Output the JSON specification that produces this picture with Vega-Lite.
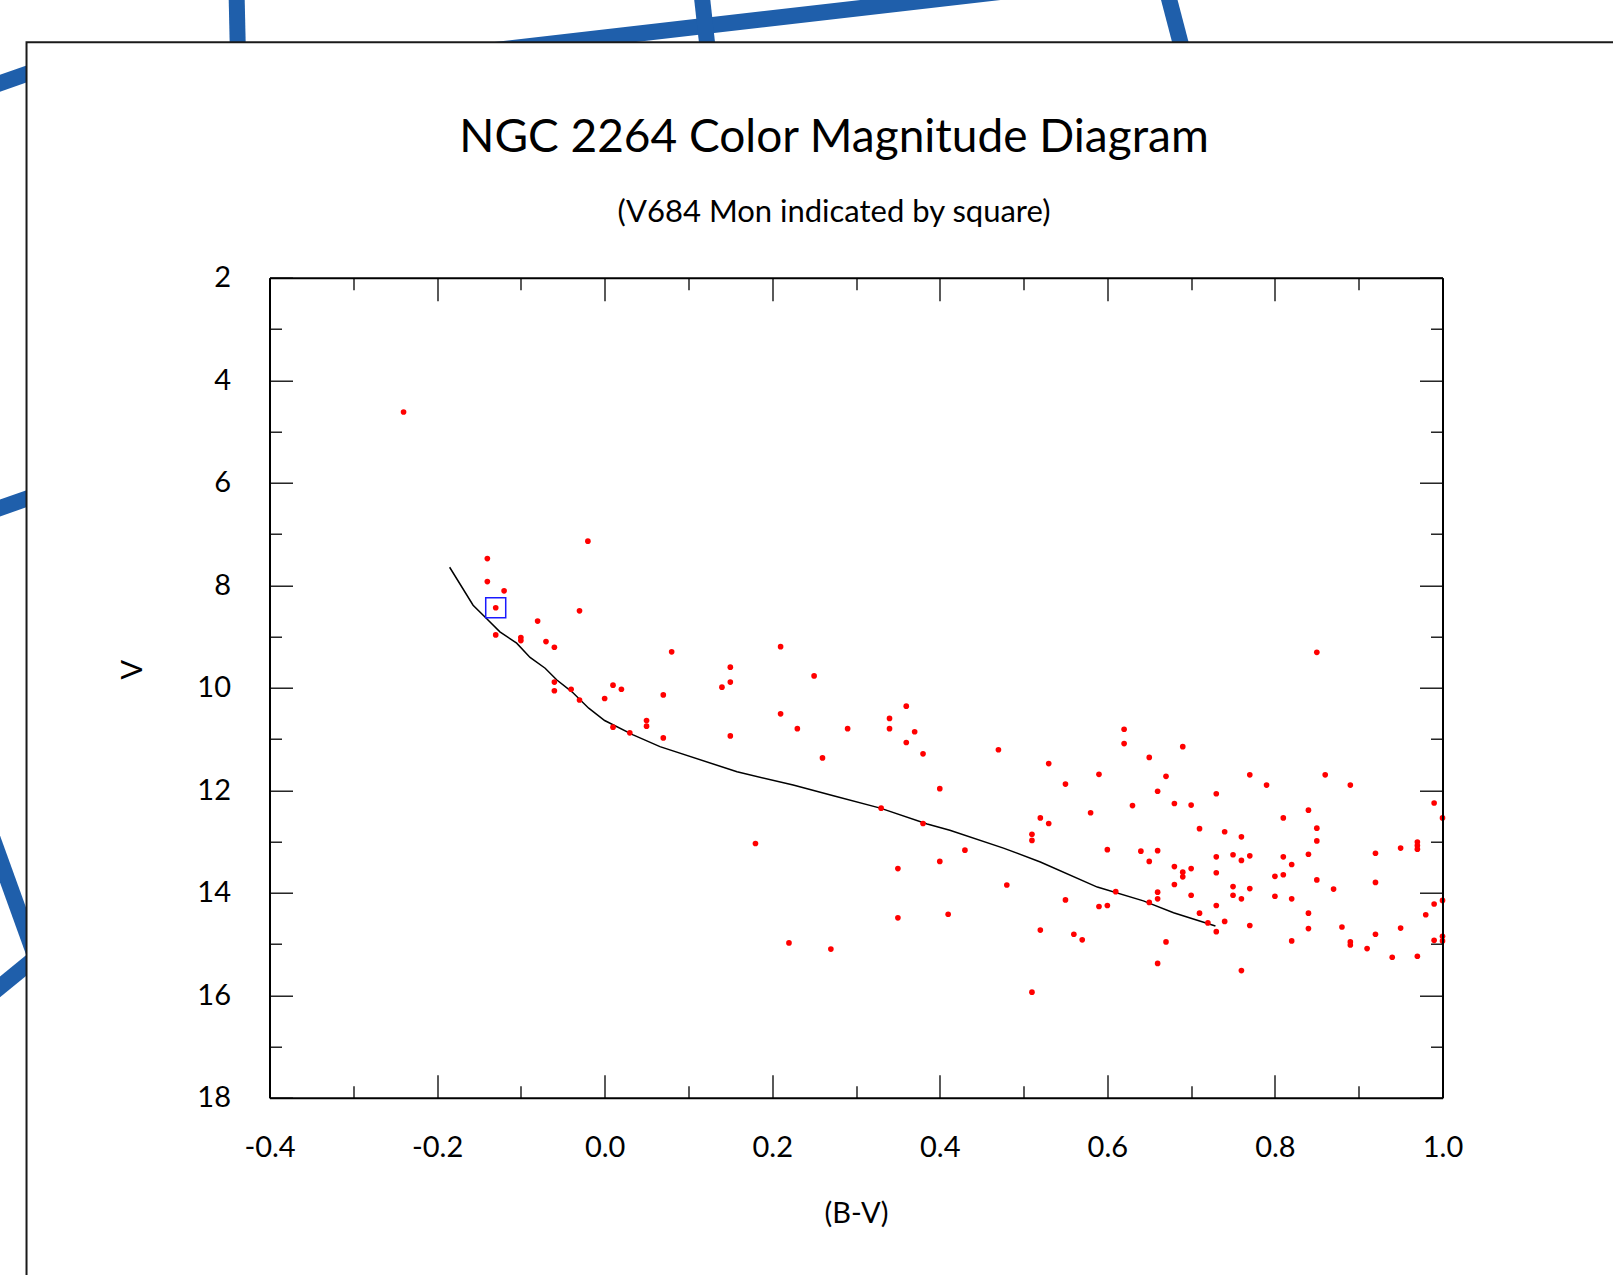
{
  "$schema": "https://vega.github.io/schema/vega-lite/v6.json",
  "width": 1173,
  "height": 820,
  "autosize": "none",
  "padding": {"left": 269.5, "top": 277.7, "right": 170.5, "bottom": 177.3},
  "background": "white",
  "view": {"stroke": null},
  "title": {
    "text": "NGC 2264 Color Magnitude Diagram",
    "subtitle": "(V684 Mon indicated by square)",
    "anchor": "middle",
    "frame": "group",
    "dx": -22,
    "offset": -247,
    "font": "Lato",
    "fontSize": 46,
    "fontWeight": "normal",
    "color": "black",
    "subtitleFont": "Lato",
    "subtitleFontSize": 31,
    "subtitleColor": "black",
    "subtitlePadding": 36
  },
  "config": {
    "axis": {
      "grid": false,
      "tickColor": "black",
      "tickWidth": 1.3,
      "domainColor": "black",
      "domainWidth": 2,
      "labelFont": "Lato",
      "labelFontSize": 29,
      "labelColor": "black",
      "labelFlush": false,
      "labelOverlap": false,
      "titleFont": "Lato",
      "titleFontSize": 29,
      "titleFontWeight": "normal",
      "titleColor": "black"
    }
  },
  "datasets": {
    "bg": [
      {"x1": -0.4394, "y1": -3.614, "x2": -0.4370, "y2": -1.858},
      {"x1": -0.1487, "y1": -2.408, "x2": 0.4721, "y2": -3.575},
      {"x1": 0.1152, "y1": -3.614, "x2": 0.1271, "y2": -1.858},
      {"x1": 0.6708, "y1": -3.614, "x2": 0.6983, "y2": -1.897},
      {"x1": -0.7456, "y1": -1.657, "x2": -0.6501, "y2": -2.203},
      {"x1": -0.7456, "y1": 6.630, "x2": -0.6501, "y2": 6.084},
      {"x1": -0.7337, "y1": 12.796, "x2": -0.6740, "y2": 15.499},
      {"x1": -0.7337, "y1": 16.000, "x2": -0.6740, "y2": 15.200}
    ],
    "panel": [
      {"x1": -0.690, "x2": 1.40, "y1": -2.593, "y2": 23.0}
    ],
    "zams": [
      {"bv": -0.185, "v": 7.65}, {"bv": -0.157, "v": 8.39}, {"bv": -0.141, "v": 8.65},
      {"bv": -0.125, "v": 8.91}, {"bv": -0.105, "v": 9.13}, {"bv": -0.089, "v": 9.41},
      {"bv": -0.071, "v": 9.62}, {"bv": -0.057, "v": 9.85}, {"bv": -0.039, "v": 10.08},
      {"bv": -0.019, "v": 10.40}, {"bv": 0.0, "v": 10.64}, {"bv": 0.034, "v": 10.92},
      {"bv": 0.066, "v": 11.15}, {"bv": 0.158, "v": 11.64}, {"bv": 0.225, "v": 11.90},
      {"bv": 0.273, "v": 12.11}, {"bv": 0.329, "v": 12.35}, {"bv": 0.385, "v": 12.66},
      {"bv": 0.412, "v": 12.78}, {"bv": 0.476, "v": 13.13}, {"bv": 0.520, "v": 13.40},
      {"bv": 0.588, "v": 13.89}, {"bv": 0.643, "v": 14.16}, {"bv": 0.679, "v": 14.39},
      {"bv": 0.729, "v": 14.65}
    ],
    "v684": [{"bv": -0.13, "v": 8.44}],
    "stars": [
      {"bv": -0.24, "v": 4.62}, {"bv": -0.14, "v": 7.48}, {"bv": -0.02, "v": 7.14},
      {"bv": -0.14, "v": 7.93}, {"bv": -0.12, "v": 8.11}, {"bv": -0.13, "v": 8.44},
      {"bv": -0.03, "v": 8.50}, {"bv": -0.08, "v": 8.70}, {"bv": -0.13, "v": 8.97},
      {"bv": -0.10, "v": 9.02}, {"bv": -0.10, "v": 9.08}, {"bv": -0.07, "v": 9.10},
      {"bv": -0.06, "v": 9.21}, {"bv": -0.06, "v": 9.89}, {"bv": -0.06, "v": 10.06},
      {"bv": -0.04, "v": 10.03}, {"bv": -0.03, "v": 10.24}, {"bv": 0.00, "v": 10.21},
      {"bv": 0.01, "v": 9.95}, {"bv": 0.02, "v": 10.03}, {"bv": 0.01, "v": 10.77},
      {"bv": 0.03, "v": 10.88}, {"bv": 0.05, "v": 10.64}, {"bv": 0.05, "v": 10.75},
      {"bv": 0.08, "v": 9.30}, {"bv": 0.21, "v": 9.20}, {"bv": 0.15, "v": 9.60},
      {"bv": 0.15, "v": 9.89}, {"bv": 0.14, "v": 9.99}, {"bv": 0.25, "v": 9.77},
      {"bv": 0.07, "v": 10.14}, {"bv": 0.07, "v": 10.98}, {"bv": 0.15, "v": 10.94},
      {"bv": 0.21, "v": 10.51}, {"bv": 0.23, "v": 10.80}, {"bv": 0.29, "v": 10.80},
      {"bv": 0.34, "v": 10.60}, {"bv": 0.34, "v": 10.80}, {"bv": 0.36, "v": 10.36},
      {"bv": 0.37, "v": 10.86}, {"bv": 0.36, "v": 11.07}, {"bv": 0.26, "v": 11.37},
      {"bv": 0.38, "v": 11.29}, {"bv": 0.47, "v": 11.21}, {"bv": 0.40, "v": 11.97},
      {"bv": 0.33, "v": 12.35}, {"bv": 0.38, "v": 12.65}, {"bv": 0.18, "v": 13.04},
      {"bv": 0.43, "v": 13.17}, {"bv": 0.40, "v": 13.39}, {"bv": 0.35, "v": 13.53},
      {"bv": 0.48, "v": 13.85}, {"bv": 0.35, "v": 14.49}, {"bv": 0.41, "v": 14.42},
      {"bv": 0.22, "v": 14.98}, {"bv": 0.27, "v": 15.10},
      {"bv": 0.53, "v": 11.48}, {"bv": 0.55, "v": 11.88}, {"bv": 0.59, "v": 11.69},
      {"bv": 0.62, "v": 10.81}, {"bv": 0.62, "v": 11.09}, {"bv": 0.65, "v": 11.36},
      {"bv": 0.69, "v": 11.15}, {"bv": 0.67, "v": 11.73}, {"bv": 0.66, "v": 12.02},
      {"bv": 0.68, "v": 12.26}, {"bv": 0.70, "v": 12.29}, {"bv": 0.63, "v": 12.30},
      {"bv": 0.58, "v": 12.44}, {"bv": 0.52, "v": 12.54}, {"bv": 0.53, "v": 12.65},
      {"bv": 0.51, "v": 12.86}, {"bv": 0.51, "v": 12.98}, {"bv": 0.73, "v": 12.07},
      {"bv": 0.71, "v": 12.75}, {"bv": 0.77, "v": 11.70}, {"bv": 0.79, "v": 11.90},
      {"bv": 0.86, "v": 11.70}, {"bv": 0.89, "v": 11.90}, {"bv": 0.74, "v": 12.81},
      {"bv": 0.76, "v": 12.91}, {"bv": 0.81, "v": 12.54}, {"bv": 0.84, "v": 12.39},
      {"bv": 0.85, "v": 12.74}, {"bv": 0.85, "v": 12.99}, {"bv": 0.99, "v": 12.25},
      {"bv": 1.00, "v": 12.54}, {"bv": 0.60, "v": 13.16}, {"bv": 0.64, "v": 13.19},
      {"bv": 0.66, "v": 13.18}, {"bv": 0.65, "v": 13.39}, {"bv": 0.68, "v": 13.49},
      {"bv": 0.69, "v": 13.60}, {"bv": 0.69, "v": 13.69}, {"bv": 0.70, "v": 13.53},
      {"bv": 0.73, "v": 13.30}, {"bv": 0.73, "v": 13.61}, {"bv": 0.75, "v": 13.26},
      {"bv": 0.76, "v": 13.37}, {"bv": 0.77, "v": 13.28}, {"bv": 0.81, "v": 13.30},
      {"bv": 0.82, "v": 13.45}, {"bv": 0.84, "v": 13.25}, {"bv": 0.92, "v": 13.23},
      {"bv": 0.95, "v": 13.13}, {"bv": 0.97, "v": 13.01}, {"bv": 0.97, "v": 13.08},
      {"bv": 0.97, "v": 13.15}, {"bv": 0.68, "v": 13.84}, {"bv": 0.70, "v": 14.05},
      {"bv": 0.71, "v": 14.40}, {"bv": 0.72, "v": 14.59}, {"bv": 0.73, "v": 14.25},
      {"bv": 0.73, "v": 14.76}, {"bv": 0.74, "v": 14.56}, {"bv": 0.75, "v": 13.88},
      {"bv": 0.75, "v": 14.05}, {"bv": 0.76, "v": 14.12}, {"bv": 0.77, "v": 13.92},
      {"bv": 0.77, "v": 14.64}, {"bv": 0.76, "v": 15.52}, {"bv": 0.80, "v": 13.68},
      {"bv": 0.81, "v": 13.65}, {"bv": 0.80, "v": 14.07}, {"bv": 0.82, "v": 14.12},
      {"bv": 0.85, "v": 13.75}, {"bv": 0.87, "v": 13.93}, {"bv": 0.84, "v": 14.40},
      {"bv": 0.84, "v": 14.70}, {"bv": 0.82, "v": 14.94}, {"bv": 0.88, "v": 14.67},
      {"bv": 0.89, "v": 14.96}, {"bv": 0.89, "v": 15.02}, {"bv": 0.91, "v": 15.09},
      {"bv": 0.92, "v": 13.80}, {"bv": 0.92, "v": 14.81}, {"bv": 0.94, "v": 15.26},
      {"bv": 0.95, "v": 14.69}, {"bv": 0.97, "v": 15.24}, {"bv": 0.98, "v": 14.43},
      {"bv": 0.99, "v": 14.22}, {"bv": 1.00, "v": 14.15}, {"bv": 0.99, "v": 14.93},
      {"bv": 1.00, "v": 14.85}, {"bv": 1.00, "v": 14.94}, {"bv": 0.66, "v": 13.99},
      {"bv": 0.66, "v": 14.12}, {"bv": 0.65, "v": 14.19}, {"bv": 0.67, "v": 14.96},
      {"bv": 0.66, "v": 15.38}, {"bv": 0.61, "v": 13.98}, {"bv": 0.59, "v": 14.27},
      {"bv": 0.60, "v": 14.25}, {"bv": 0.55, "v": 14.14}, {"bv": 0.52, "v": 14.73},
      {"bv": 0.56, "v": 14.81}, {"bv": 0.57, "v": 14.92}, {"bv": 0.51, "v": 15.94},
      {"bv": 0.85, "v": 9.31}
    ]
  },
  "resolve": {"axis": {"x": "independent", "y": "independent"}},
  "layer": [
    {
      "data": {"name": "bg"},
      "mark": {"type": "rule", "color": "#1f5fab", "strokeWidth": 16, "strokeCap": "butt"},
      "encoding": {
        "x": {"field": "x1", "type": "quantitative",
              "scale": {"domain": [-0.4, 1.0], "nice": false, "zero": false},
              "axis": {"orient": "bottom", "zindex": 2, "values": [-0.4, -0.2, 0, 0.2, 0.4, 0.6, 0.8, 1.0],
                       "tickSize": -23, "labelPadding": 82, "labelBaseline": "alphabetic",
                       "labelExpr": "datum.value < 0 ? '-' + format(-datum.value, '.1f') : format(datum.value, '.1f')",
                       "title": "(B-V)", "titlePadding": 37}},
        "x2": {"field": "x2"},
        "y": {"field": "y1", "type": "quantitative",
              "scale": {"domain": [2, 18], "nice": false, "zero": false, "reverse": true},
              "axis": {"orient": "left", "zindex": 2, "values": [2, 4, 6, 8, 10, 12, 14, 16, 18],
                       "tickSize": -23, "labelPadding": 62, "labelBaseline": "middle",
                       "title": "V", "titleX": -137.5, "titleY": 391.5, "titleBaseline": "middle", "titleAngle": 270}},
        "y2": {"field": "y2"}
      }
    },
    {
      "data": {"name": "panel"},
      "mark": {"type": "rect", "fill": "white", "stroke": "#1a1a1a", "strokeWidth": 2},
      "encoding": {
        "x": {"field": "x1", "type": "quantitative",
              "scale": {"domain": [-0.4, 1.0], "nice": false, "zero": false},
              "axis": {"orient": "bottom", "zindex": 2, "values": [-0.3, -0.1, 0.1, 0.3, 0.5, 0.7, 0.9],
                       "tickSize": -12, "labels": false, "domain": false, "title": null}},
        "x2": {"field": "x2"},
        "y": {"field": "y1", "type": "quantitative",
              "scale": {"domain": [2, 18], "nice": false, "zero": false, "reverse": true},
              "axis": {"orient": "left", "zindex": 2, "values": [3, 5, 7, 9, 11, 13, 15, 17],
                       "tickSize": -12, "labels": false, "domain": false, "title": null}},
        "y2": {"field": "y2"}
      }
    },
    {
      "data": {"name": "zams"},
      "mark": {"type": "line", "color": "black", "strokeWidth": 1.5},
      "encoding": {
        "x": {"field": "bv", "type": "quantitative",
              "scale": {"domain": [-0.4, 1.0], "nice": false, "zero": false},
              "axis": {"orient": "top", "zindex": 2, "values": [-0.4, -0.2, 0, 0.2, 0.4, 0.6, 0.8, 1.0],
                       "tickSize": -23, "labels": false, "title": null}},
        "y": {"field": "v", "type": "quantitative",
              "scale": {"domain": [2, 18], "nice": false, "zero": false, "reverse": true},
              "axis": {"orient": "right", "zindex": 2, "values": [2, 4, 6, 8, 10, 12, 14, 16, 18],
                       "tickSize": -23, "labels": false, "title": null}}
      }
    },
    {
      "data": {"name": "stars"},
      "mark": {"type": "circle", "size": 32, "color": "#ff0000", "opacity": 1},
      "encoding": {
        "x": {"field": "bv", "type": "quantitative",
              "scale": {"domain": [-0.4, 1.0], "nice": false, "zero": false},
              "axis": {"orient": "top", "zindex": 2, "values": [-0.3, -0.1, 0.1, 0.3, 0.5, 0.7, 0.9],
                       "tickSize": -12, "labels": false, "domain": false, "title": null}},
        "y": {"field": "v", "type": "quantitative",
              "scale": {"domain": [2, 18], "nice": false, "zero": false, "reverse": true},
              "axis": {"orient": "right", "zindex": 2, "values": [3, 5, 7, 9, 11, 13, 15, 17],
                       "tickSize": -12, "labels": false, "domain": false, "title": null}}
      }
    },
    {
      "data": {"name": "v684"},
      "mark": {"type": "point", "shape": "square", "size": 400, "filled": false, "stroke": "#1a1aff", "strokeWidth": 1.5, "opacity": 1},
      "encoding": {
        "x": {"field": "bv", "type": "quantitative",
              "scale": {"domain": [-0.4, 1.0], "nice": false, "zero": false}, "axis": null},
        "y": {"field": "v", "type": "quantitative",
              "scale": {"domain": [2, 18], "nice": false, "zero": false, "reverse": true}, "axis": null}
      }
    }
  ]
}
